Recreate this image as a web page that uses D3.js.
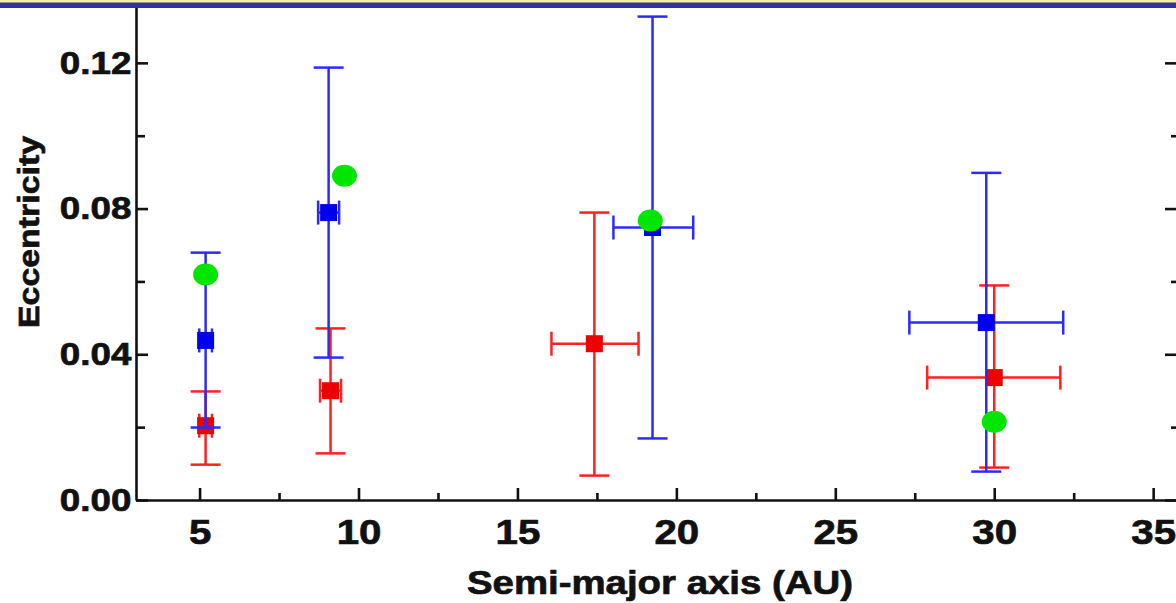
<!DOCTYPE html>
<html>
<head>
<meta charset="utf-8">
<script src="https://cdn.jsdelivr.net/npm/d3@7"></script>
<style>
  html, body { margin: 0; padding: 0; background: #fff; }
  svg { display: block; }
  text { font-family: "Liberation Sans", Arial, Helvetica, sans-serif; font-weight: bold; fill: #111; stroke: #111; stroke-width: 0.7px; }
</style>
</head>
<body>
<svg id="chart" width="1176" height="603"></svg>
<script>
// semi-major axis (AU) and eccentricity
// blue series
blueA    = [5.19, 9.06, 19.25, 29.75];
blueALo  = [4.99, 8.73, 18.02, 27.33];
blueAHi  = [5.39, 9.39, 20.53, 32.17];
blueE    = [0.0438, 0.0789, 0.0748, 0.0487];
blueELo  = [0.0199, 0.0391, 0.0169, 0.0078];
blueEHi  = [0.0679, 0.1187, 0.1327, 0.0898];
// red series
redA     = [5.19, 9.12, 17.42, 30.0];
redALo   = [4.99, 8.79, 16.07, 27.89];
redAHi   = [5.39, 9.45, 18.81, 32.08];
redE     = [0.0204, 0.0300, 0.0429, 0.0336];
redELo   = [0.0097, 0.0128, 0.0067, 0.0089];
redEHi   = [0.0298, 0.0471, 0.0789, 0.0589];
// green circles
greenA   = [5.19, 9.56, 19.18, 30.0];
greenE   = [0.0619, 0.0890, 0.0767, 0.0215];

xMajor = [5, 10, 15, 20, 25, 30, 35];
xMinor = [7.5, 12.5, 17.5, 22.5, 27.5, 32.5];
yMajor = [0, 0.04, 0.08, 0.12];
yMinor = [0.02, 0.06, 0.10];

svg = d3.select("#chart");
left = 136; right = 1177; bottom = 500;

x = d3.scaleLinear().domain([3, 35.75]).range([left, right]);
y = d3.scaleLinear().domain([0, 0.14]).range([bottom, -10]);

stretch = 1.15;

// x axis: major ticks with labels, then minor ticks
xAx = svg.append("g").attr("transform", `translate(0,${bottom})`)
    .call(d3.axisBottom(x).tickValues(xMajor).tickSize(-12).tickSizeOuter(0).tickPadding(19).tickFormat(d3.format("d")));
xAx.selectAll("text").attr("font-size", 35).attr("transform", `scale(${stretch},1)`);
svg.append("g").attr("transform", `translate(0,${bottom})`)
    .call(d3.axisBottom(x).tickValues(xMinor).tickSize(-7).tickSizeOuter(0).tickFormat(""))
    .select(".domain").remove();

// left y axis
yAx = svg.append("g").attr("transform", `translate(${left},0)`)
    .call(d3.axisLeft(y).tickValues(yMajor).tickSize(-12).tickSizeOuter(0).tickPadding(4).tickFormat(d3.format(".2f")));
yAx.selectAll("text").attr("font-size", 32).attr("transform", `scale(${stretch},1)`);
svg.append("g").attr("transform", `translate(${left},0)`)
    .call(d3.axisLeft(y).tickValues(yMinor).tickSize(-9).tickSizeOuter(0).tickFormat(""))
    .select(".domain").remove();

// right y axis (mirrored ticks, line sits just past the edge)
svg.append("g").attr("transform", `translate(${right},0)`)
    .call(d3.axisRight(y).tickValues(yMajor).tickSize(-12).tickSizeOuter(0).tickFormat(""));
svg.append("g").attr("transform", `translate(${right},0)`)
    .call(d3.axisRight(y).tickValues(yMinor).tickSize(-6).tickSizeOuter(0).tickFormat(""))
    .select(".domain").remove();

svg.selectAll(".domain").attr("stroke", "#111").attr("stroke-width", 2.6);
svg.selectAll(".tick line").attr("stroke", "#111").attr("stroke-width", 2.6);

// titles
svg.append("text")
    .attr("x", 660).attr("y", 594)
    .attr("text-anchor", "middle")
    .attr("font-size", 34)
    .attr("textLength", 386).attr("lengthAdjust", "spacingAndGlyphs")
    .text("Semi-major axis (AU)");
svg.append("text")
    .attr("transform", "translate(39,232) rotate(-90)")
    .attr("text-anchor", "middle")
    .attr("font-size", 29)
    .attr("textLength", 192).attr("lengthAdjust", "spacingAndGlyphs")
    .text("Eccentricity");

// error bars + square markers
function drawSeries(a, aLo, aHi, e, eLo, eHi, lineColor, fill) {
    rows = a.map((d, i) => ({a: d, aLo: aLo[i], aHi: aHi[i], e: e[i], eLo: eLo[i], eHi: eHi[i]}));
    g = svg.append("g").attr("stroke", lineColor).attr("stroke-width", 2.5);
    // vertical bars
    g.selectAll(".v").data(rows).enter().append("line")
        .attr("x1", d => x(d.a)).attr("x2", d => x(d.a))
        .attr("y1", d => y(d.eLo)).attr("y2", d => y(d.eHi));
    g.selectAll(".vcapT").data(rows).enter().append("line")
        .attr("x1", d => x(d.a) - 15).attr("x2", d => x(d.a) + 15)
        .attr("y1", d => y(d.eHi)).attr("y2", d => y(d.eHi));
    g.selectAll(".vcapB").data(rows).enter().append("line")
        .attr("x1", d => x(d.a) - 15).attr("x2", d => x(d.a) + 15)
        .attr("y1", d => y(d.eLo)).attr("y2", d => y(d.eLo));
    // horizontal bars
    g.selectAll(".h").data(rows).enter().append("line")
        .attr("x1", d => x(d.aLo)).attr("x2", d => x(d.aHi))
        .attr("y1", d => y(d.e)).attr("y2", d => y(d.e));
    g.selectAll(".hcapL").data(rows).enter().append("line")
        .attr("x1", d => x(d.aLo)).attr("x2", d => x(d.aLo))
        .attr("y1", d => y(d.e) - 12).attr("y2", d => y(d.e) + 12);
    g.selectAll(".hcapR").data(rows).enter().append("line")
        .attr("x1", d => x(d.aHi)).attr("x2", d => x(d.aHi))
        .attr("y1", d => y(d.e) - 12).attr("y2", d => y(d.e) + 12);
    svg.append("g").selectAll("rect").data(rows).enter().append("rect")
        .attr("x", d => x(d.a) - 8.5).attr("y", d => y(d.e) - 8.5)
        .attr("width", 17).attr("height", 17)
        .attr("fill", fill);
}

drawSeries(redA, redALo, redAHi, redE, redELo, redEHi, "#ff2020", "#ee0000");
drawSeries(blueA, blueALo, blueAHi, blueE, blueELo, blueEHi, "#2a2aff", "#0000ee");

svg.append("g").selectAll("ellipse")
    .data(greenA.map((d, i) => ({a: d, e: greenE[i]})))
    .enter().append("ellipse")
    .attr("cx", d => x(d.a)).attr("cy", d => y(d.e))
    .attr("rx", 12.5).attr("ry", 11)
    .attr("fill", "#00e600");

// header strip across the top
svg.append("rect").attr("x", 0).attr("y", -20).attr("width", 1176).attr("height", 28).attr("fill", "#333399");
svg.append("rect").attr("x", 0).attr("y", 0).attr("width", 1176).attr("height", 2.5).attr("fill", "#f6f1a2");
</script>
</body>
</html>
